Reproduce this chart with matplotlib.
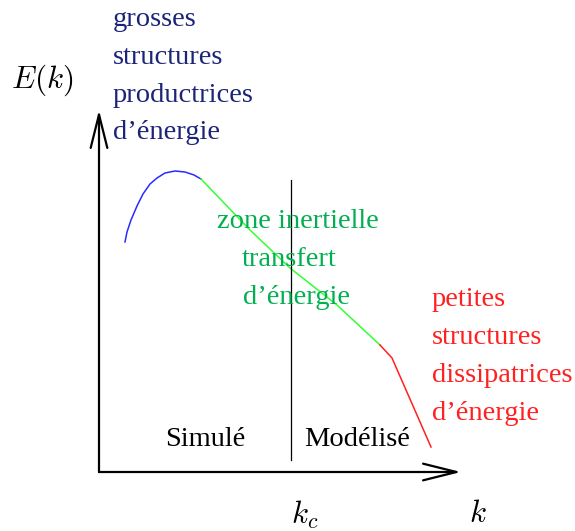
import matplotlib
matplotlib.use("Agg")
import matplotlib.pyplot as plt

plt.rcParams['font.family'] = ['Liberation Serif', 'DejaVu Serif']
plt.rcParams['mathtext.fontset'] = 'cm'

# schematic spectrum, k to the right, E(k) upward (origin at axes corner)
k_large = [26, 28, 32, 38, 44, 51, 58, 66, 76, 86, 95, 102]
E_large = [230, 240, 252, 266, 278, 288, 294, 299, 301, 300, 297, 293]

k_inert = [102, 151, 191, 238, 281]
E_inert = [293, 242, 204, 167, 127]

k_dissip = [281, 293, 332]
E_dissip = [127, 114, 25]

k_cut = 192
E_cut = [12, 292]

big_lines = ["grosses", "structures", "productrices", "d\u2019énergie"]
inert_lines = ["zone inertielle", "transfert", "d\u2019énergie"]
small_lines = ["petites", "structures", "dissipatrices", "d\u2019énergie"]

fig = plt.figure(figsize=(5.75, 5.31), dpi=100)
ax = fig.add_axes([0, 0, 1, 1])
ax.set_xlim(-99, 476)
ax.set_ylim(-59, 472)
ax.axis('off')

# axes arrows
arrow = dict(arrowstyle='->,head_length=2.4,head_width=0.6', lw=1.6, color='black',
             shrinkA=0, shrinkB=0)
ax.annotate('', xy=(0, 362), xytext=(0, 0), arrowprops=arrow)
ax.annotate('', xy=(362, 0), xytext=(0, 0), arrowprops=arrow)

ax.plot(k_large, E_large, color='#2a2aff', lw=1.1)
ax.plot(k_inert, E_inert, color='#33ff33', lw=1.1)
ax.plot(k_dissip, E_dissip, color='#ff2020', lw=1.1)
ax.plot([k_cut, k_cut], E_cut, color='black', lw=0.9)

fs = 20.5
for i, s in enumerate(big_lines):
    ax.text(14, 452 - i * 37.5, s, color='#1c2478', fontsize=fs, ha='left', va='center')
for i, s in enumerate(inert_lines):
    ax.text([199, 190, 198][i], 251 - i * 38.5, s, color='#00b050', fontsize=fs,
            ha='center', va='center')
for i, s in enumerate(small_lines):
    ax.text(333, 172 - i * 38, s, color='#ff2020', fontsize=fs, ha='left', va='center')

ax.text(106, 32, "Simulé", fontsize=fs, ha='center', va='center')
ax.text(205, 32, "Modélisé", fontsize=fs, ha='left', va='center')

ax.text(-88, 392, r'$E(k)$', fontsize=22.5, ha='left', va='center')
ax.text(206, -43, r'$k_c$', fontsize=22.5, ha='center', va='center')
ax.text(379, -43, r'$k$', fontsize=22.5, ha='center', va='center')

fig.savefig('out.png', dpi=100)
